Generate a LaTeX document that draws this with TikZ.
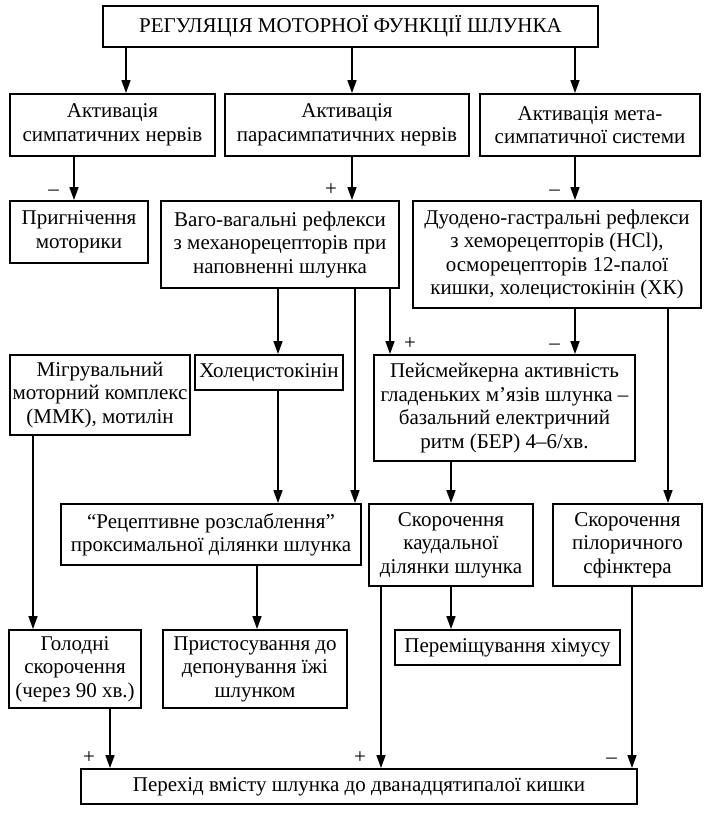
\documentclass[tikz,border=0pt]{standalone}
\usepackage{fontspec}
\setmainfont{Liberation Serif}
\usetikzlibrary{arrows.meta,positioning}

\begin{document}
\begin{tikzpicture}[x=1pt, y=-1pt,
        txt/.style={font=\fontsize{21}{23.5}\selectfont},
        box/.style 2 args={txt, draw, line width=1.9pt, align=center, inner sep=0pt,
            minimum width=#1pt, minimum height=#2pt},
        arr/.style={line width=1.6pt, -{Triangle[length=13pt, width=9pt]}},
        sgnl/.style={txt, anchor=south east, xshift=-11pt, yshift=0pt},
        sgnr/.style={txt, anchor=south west, xshift=10pt, yshift=0pt}
    ]
        \useasboundingbox (0,0) rectangle (706,814);

        % Boxes
        \node[box={495}{41}] (title) at (350.5,26.5) {РЕГУЛЯЦІЯ МОТОРНОЇ ФУНКЦІЇ ШЛУНКА};

        \node[box={205}{62}] (symp) at (112.5,125) {Активація\\симпатичних нервів};
        \node[box={244}{62}] (para) at (347,125) {Активація\\парасимпатичних нервів};
        \node[box={220}{62}] (meta) at (590,125) {Активація мета-\\симпатичної системи};

        \node[box={138}{62}] (depr) at (79,232) {Пригнічення\\моторики};
        \node[box={238}{87}] (vago) at (280,244.5) {Ваго-вагальні рефлекси\\з механорецепторів при\\наповненні шлунка};
        \node[box={288}{107}] (duod) at (557,254.5) {Дуодено-гастральні рефлекси\\з хеморецепторів (HCl),\\осморецепторів 12-палої\\кишки, холецистокінін (ХК)};

        \node[box={180}{80}] (mmk) at (100,395) {Мігрувальний\\моторний комплекс\\(ММК), мотилін};
        \node[box={148}{35}] (chol) at (269,372.5) {Холецистокінін};
        \node[box={261}{106}] (pace) at (504.5,408) {Пейсмейкерна активність\\гладеньких м’язів шлунка –\\базальний електричний\\ритм (БЕР) 4–6/хв.};

        \node[box={300}{61}] (recp) at (211,534.5) {“Рецептивне розслаблення”\\проксимальної ділянки шлунка};
        \node[box={164}{82}] (caud) at (451,545) {Скорочення\\каудальної\\ділянки шлунка};
        \node[box={149}{82}] (pylo) at (627.5,545) {Скорочення\\пілоричного\\сфінктера};

        \node[box={132}{78}] (hung) at (75,669) {Голодні\\скорочення\\(через 90 хв.)};
        \node[box={184}{78}] (adapt) at (255,669) {Пристосування до\\депонування їжі\\шлунком};
        \node[box={225}{35}] (mix) at (507.5,647.5) {Переміщування хімусу};

        \node[box={556}{35}] (trans) at (359,786.5) {Перехід вмісту шлунка до дванадцятипалої кишки};

        % x of the connectors
        \foreach \nm/\xx in {ka/126, kb/352, kc/575, kd/74, kh/278, kr/355, kp/390,
            kq/668, km/33, kk/451, kz/257, kg/110, ks/381, kt/632} {
            \coordinate (\nm) at (\xx,0);
        }

        % Connectors
        \draw[arr] (title.south -| ka) -- (symp.north -| ka);
        \draw[arr] (title.south -| kb) -- (para.north -| kb);
        \draw[arr] (title.south -| kc) -- (meta.north -| kc);

        \draw[arr] (symp.south -| kd) -- (depr.north -| kd) node[sgnl] {–};
        \draw[arr] (para.south -| kb) -- (vago.north -| kb) node[sgnl] {+};
        \draw[arr] (meta.south -| kc) -- (duod.north -| kc) node[sgnl] {–};

        \draw[arr] (vago.south -| kh) -- (chol.north -| kh);
        \draw[arr] (vago.south -| kr) -- (recp.north -| kr);
        \draw[arr] (vago.south -| kp) -- (pace.north -| kp) node[sgnr] {+};
        \draw[arr] (duod.south -| kc) -- (pace.north -| kc) node[sgnl] {–};
        \draw[arr] (duod.south -| kq) -- (pylo.north -| kq);

        \draw[arr] (chol.south -| kh) -- (recp.north -| kh);
        \draw[arr] (mmk.south -| km) -- (hung.north -| km);
        \draw[arr] (pace.south -| kk) -- (caud.north -| kk);

        \draw[arr] (recp.south -| kz) -- (adapt.north -| kz);
        \draw[arr] (caud.south -| kk) -- (mix.north -| kk);

        \draw[arr] (hung.south -| kg) -- (trans.north -| kg) node[sgnl] {+};
        \draw[arr] (caud.south -| ks) -- (trans.north -| ks) node[sgnl] {+};
        \draw[arr] (pylo.south -| kt) -- (trans.north -| kt) node[sgnl] {–};

    \end{tikzpicture}
\end{document}
